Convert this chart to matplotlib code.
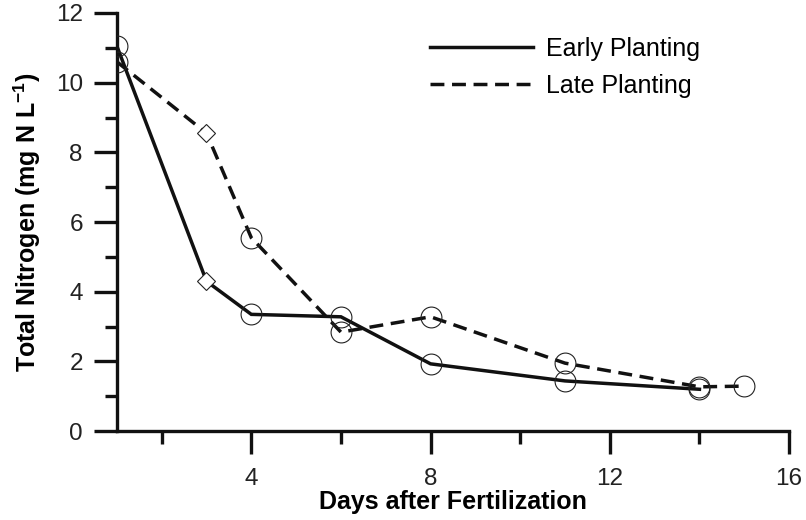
import matplotlib
matplotlib.use("Agg")
import matplotlib.pyplot as plt
import numpy as np

plt.rcParams["font.family"] = ["Liberation Sans", "DejaVu Sans"]
plt.rcParams["mathtext.fontset"] = "custom"
plt.rcParams["mathtext.bf"] = "Liberation Sans:bold"
plt.rcParams["mathtext.rm"] = "Liberation Sans"

# 시비 후 경과일
days = [1, 3, 4, 6, 8, 11, 14]
days_late = [1, 3, 4, 6, 8, 11, 14, 15]

# 총 질소 (mg N L-1)
early_n = [11.05, 4.3, 3.35, 3.28, 1.93, 1.44, 1.2]
late_n = [10.6, 8.55, 5.55, 2.84, 3.28, 1.95, 1.27, 1.29]

diamond_day = 3

fig = plt.figure(figsize=(8.06, 5.2), dpi=100)
ax = fig.add_axes([0.145, 0.171, 0.834, 0.804])

lw = 2.5
ax.plot(days, early_n, color="#111111", lw=lw, solid_joinstyle="miter",
        label="Early Planting", zorder=2)
ax.plot(days_late, late_n, color="#111111", lw=lw, dashes=(4.0, 2.2),
        label="Late Planting", zorder=2)

# 마커: 3일차는 다이아몬드, 나머지는 원
for xs, ys in [(days, early_n), (days_late, late_n)]:
    xs = np.array(xs)
    ys = np.array(ys)
    m = xs == diamond_day
    ax.plot(xs[~m], ys[~m], ls="none", marker="o", ms=15, mfc="none",
            mec="#222222", mew=0.8, zorder=3)
    ax.plot(xs[m], ys[m], ls="none", marker="D", ms=9, mfc="white",
            mec="#222222", mew=0.8, zorder=3)

ax.set_xlim(1, 16)
ax.set_ylim(0, 12)
ax.set_xticks([4, 8, 12, 16])
ax.set_xticks([2, 6, 10, 14], minor=True)
ax.set_yticks(range(0, 13, 2))
ax.set_yticks(range(1, 12, 2), minor=True)

for s in ["top", "right"]:
    ax.spines[s].set_visible(False)
for s in ["left", "bottom"]:
    ax.spines[s].set_linewidth(2.4)
    ax.spines[s].set_color("#111111")

ax.tick_params(which="major", length=16.5, width=2.4, labelsize=17.5,
               color="#111111", labelcolor="#222222")
ax.tick_params(which="minor", length=9, width=2.4, color="#111111")
ax.tick_params(axis="x", pad=10)
ax.tick_params(axis="y", pad=8)

ax.set_xlabel("Days after Fertilization", fontsize=18, fontweight="bold", labelpad=0)
ax.set_ylabel(r"Total Nitrogen (mg N L$^{\mathbf{-1}}$)", fontsize=18,
              fontweight="bold", labelpad=9)

ax.legend(loc="upper left", bbox_to_anchor=(0.466, 0.943), frameon=False, fontsize=18,
          handlelength=4.1, handletextpad=0.55, labelspacing=0.52,
          borderpad=0, borderaxespad=0)

fig.savefig("out.png", dpi=100)
